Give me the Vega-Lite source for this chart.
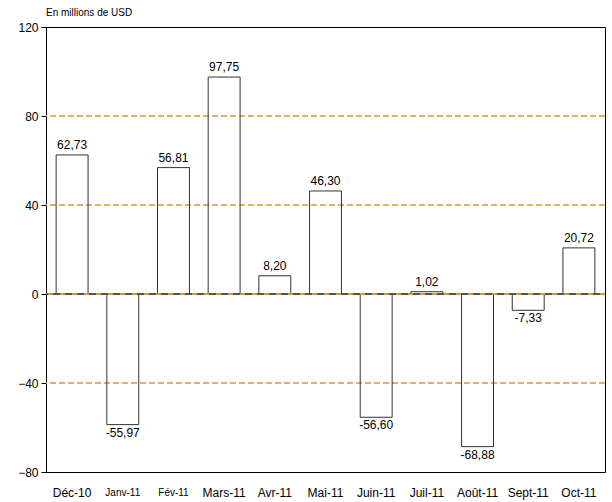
{
  "$schema": "https://vega.github.io/schema/vega-lite/v6.json",
  "autosize": {"type": "none"},
  "width": 559,
  "height": 445,
  "padding": {"left": 46, "top": 27, "right": 7, "bottom": 30},
  "background": "white",
  "config": {
    "font": "Liberation Sans",
    "view": {"stroke": "#000000", "strokeWidth": 1}
  },
  "title": {
    "text": "En millions de USD",
    "anchor": "start",
    "frame": "group",
    "fontSize": 10,
    "fontWeight": "normal",
    "color": "#000000",
    "offset": 3
  },
  "data": {
    "values": [
      {"mois": "Déc-10", "valeur": 62.5, "etiquette": "62,73"},
      {"mois": "Janv-11", "valeur": -58.7, "etiquette": "-55,97"},
      {"mois": "Fév-11", "valeur": 56.81, "etiquette": "56,81"},
      {"mois": "Mars-11", "valeur": 97.5, "etiquette": "97,75"},
      {"mois": "Avr-11", "valeur": 8.2, "etiquette": "8,20"},
      {"mois": "Mai-11", "valeur": 46.3, "etiquette": "46,30"},
      {"mois": "Juin-11", "valeur": -55.4, "etiquette": "-56,60"},
      {"mois": "Juil-11", "valeur": 1.02, "etiquette": "1,02"},
      {"mois": "Août-11", "valeur": -68.6, "etiquette": "-68,88"},
      {"mois": "Sept-11", "valeur": -7.33, "etiquette": "-7,33"},
      {"mois": "Oct-11", "valeur": 20.72, "etiquette": "20,72"}
    ]
  },
  "encoding": {
    "x": {
      "field": "mois",
      "type": "nominal",
      "sort": null,
      "scale": {"paddingInner": 0.37, "paddingOuter": 0.2},
      "axis": {
        "title": null,
        "labelAngle": 0,
        "ticks": false,
        "domain": false,
        "labelPadding": 15,
        "labelColor": "#000000",
        "labelFontSize": {"condition": {"test": "datum.value == 'Janv-11' || datum.value == 'Fév-11'", "value": 10}, "value": 12}
      }
    },
    "y": {
      "field": "valeur",
      "type": "quantitative",
      "scale": {"domain": [-80, 120], "nice": false},
      "axis": {
        "title": null,
        "values": [-80, -40, 0, 40, 80, 120],
        "tickSize": 5,
        "tickColor": "#000000",
        "domainColor": "#000000",
        "labelColor": "#000000",
        "labelFontSize": 12,
        "labelPadding": 3,
        "grid": false
      }
    }
  },
  "layer": [
    {
      "data": {"values": [{"niveau": 80}, {"niveau": 40}, {"niveau": -40}]},
      "mark": {"type": "rule", "color": "#D9953A", "strokeWidth": 1.6, "strokeDash": [6, 3]},
      "encoding": {"x": null, "y": {"field": "niveau", "type": "quantitative"}}
    },
    {
      "mark": {"type": "bar", "fill": "transparent", "stroke": "#333333", "strokeWidth": 1}
    },
    {
      "mark": {"type": "rule", "color": "#555555", "strokeWidth": 1},
      "encoding": {"x": null, "y": {"datum": 0, "type": "quantitative"}}
    },
    {
      "mark": {"type": "rule", "color": "#D9953A", "strokeWidth": 1, "strokeDash": [5, 7]},
      "encoding": {"x": null, "y": {"datum": 0, "type": "quantitative"}}
    },
    {
      "transform": [{"filter": "datum.valeur >= 0"}],
      "mark": {"type": "text", "baseline": "bottom", "dy": -3, "fontSize": 12, "color": "#000000"},
      "encoding": {"text": {"field": "etiquette"}}
    },
    {
      "transform": [{"filter": "datum.valeur < 0"}],
      "mark": {"type": "text", "baseline": "top", "dy": 3, "fontSize": 12, "color": "#000000"},
      "encoding": {"text": {"field": "etiquette"}}
    }
  ]
}
